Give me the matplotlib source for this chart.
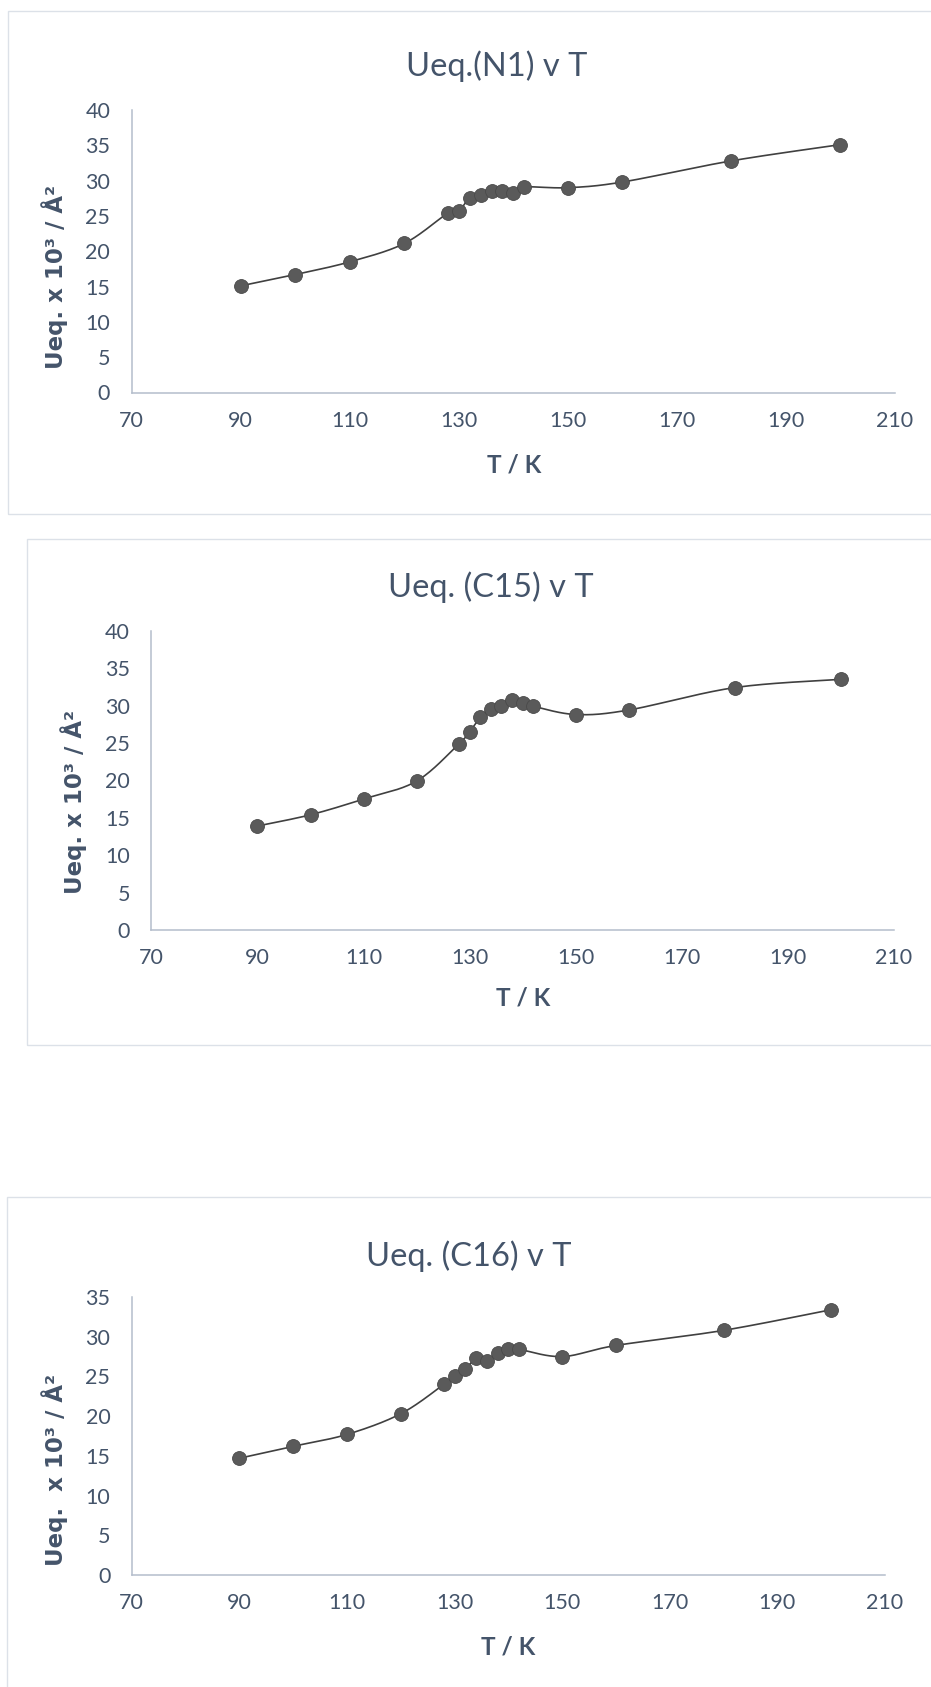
import numpy as np
import matplotlib
matplotlib.use("Agg")
import matplotlib.pyplot as plt
from matplotlib.patches import Rectangle

# ---------------- data ----------------
temps = [90, 100, 110, 120, 128, 130, 132, 134, 136, 138, 140, 142, 150, 160, 180, 200]
ueq_n1 = [15.1, 16.7, 18.5, 21.1, 25.4, 25.7, 27.6, 28.0, 28.5, 28.6, 28.3, 29.1, 29.0, 29.8, 32.8, 35.1]
ueq_c15 = [13.9, 15.4, 17.5, 19.9, 24.9, 26.5, 28.4, 29.6, 29.9, 30.8, 30.3, 29.9, 28.8, 29.4, 32.4, 33.5]
ueq_c16 = [14.7, 16.2, 17.7, 20.3, 24.0, 25.1, 25.9, 27.3, 27.0, 27.9, 28.4, 28.4, 27.5, 28.9, 30.8, 33.4]

titles = ["Ueq.(N1) v T", "Ueq. (C15) v T", "Ueq. (C16) v T"]
ylabels = ["Ueq. x 10³ / Å²", "Ueq. x 10³ / Å²", "Ueq.  x 10³ / Å²"]
xlabel = "T / K"
xticks = [70, 90, 110, 130, 150, 170, 190, 210]
yticks_40 = [0, 5, 10, 15, 20, 25, 30, 35, 40]
yticks_35 = [0, 5, 10, 15, 20, 25, 30, 35]

W, H = 931, 1687
TEXT = "#44546a"
SPINE = "#b4bdcc"
FRAME = "#dce1e8"
MARK = "#5a5a5a"
LINE = "#404040"


def smooth(x, y, n=30):
    """Excel-like smoothed line: cubic Bezier with Catmull-Rom control points."""
    x = np.asarray(x, float)
    y = np.asarray(y, float)
    P = np.column_stack([x, y])
    out = [P[0]]
    t = np.linspace(0, 1, n)[1:, None]
    for i in range(len(P) - 1):
        p0 = P[i - 1] if i > 0 else P[i]
        p3 = P[i + 2] if i + 2 < len(P) else P[i + 1]
        b0 = P[i]
        b3 = P[i + 1]
        b1 = b0 + (b3 - p0) / 6.0
        b2 = b3 - (p3 - b0) / 6.0
        seg = ((1 - t) ** 3) * b0 + 3 * ((1 - t) ** 2) * t * b1 + 3 * (1 - t) * t ** 2 * b2 + t ** 3 * b3
        out.extend(seg)
    out = np.array(out)
    return out[:, 0], out[:, 1]


fig = plt.figure(figsize=(W / 100, H / 100), dpi=100)
fig.patch.set_facecolor("white")


def fx(px):
    return px / W


def fy(py):
    return 1 - py / H


panels = [
    dict(y=ueq_n1, frame=(8, 11, 960, 514), ax=(131.7, 895, 392.5, 110), ymax=40, yt=yticks_40,
         title=(497, 66), xl=(514, 465), yl=(55, 277)),
    dict(y=ueq_c15, frame=(27, 539, 960, 1045), ax=(151.4, 894, 930, 630.7), ymax=40, yt=yticks_40,
         title=(491, 587), xl=(523, 998), yl=(74, 802)),
    dict(y=ueq_c16, frame=(7, 1197, 960, 1700), ax=(131.8, 885, 1575, 1297), ymax=35, yt=yticks_35,
         title=(469, 1256), xl=(508, 1647), yl=(55, 1470)),
]

for k, p in enumerate(panels):
    fl, ft, fr, fb = p["frame"]
    fig.patches.append(Rectangle((fx(fl), fy(fb)), fx(fr - fl), (fb - ft) / H,
                                 transform=fig.transFigure, fill=False,
                                 edgecolor=FRAME, linewidth=1.0, zorder=0))
    l, r, y0, yt = p["ax"]
    ax = fig.add_axes([fx(l), fy(y0), fx(r - l), (y0 - yt) / H])
    sx, sy = smooth(temps, p["y"])
    ax.plot(sx, sy, color=LINE, lw=1.2, zorder=2, clip_on=False)
    ax.plot(temps, p["y"], linestyle="none", marker="o", markersize=10,
            markerfacecolor=MARK, markeredgecolor="#4a4a4a", markeredgewidth=0.6,
            zorder=3, clip_on=False)
    ax.set_xlim(70, 210)
    ax.set_ylim(0, p["ymax"])
    ax.set_xticks(xticks)
    ax.set_yticks(p["yt"])
    for s in ["top", "right"]:
        ax.spines[s].set_visible(False)
    for s in ["left", "bottom"]:
        ax.spines[s].set_color(SPINE)
        ax.spines[s].set_linewidth(1.1)
    ax.tick_params(axis="both", length=0, colors=TEXT, labelsize=15.5)
    ax.tick_params(axis="x", pad=13)
    ax.tick_params(axis="y", pad=15.5)
    for lab in ax.get_xticklabels() + ax.get_yticklabels():
        lab.set_fontfamily("Lato")
    ax.patch.set_alpha(0)

    tx, ty = p["title"]
    fig.text(fx(tx), fy(ty), titles[k], ha="center", va="center", color=TEXT,
             fontsize=23.5, family="Lato", fontweight="normal")
    xx, xy = p["xl"]
    fig.text(fx(xx), fy(xy), xlabel, ha="center", va="center", color=TEXT,
             fontsize=17.5, family="Lato", fontweight="bold")
    yx, yy = p["yl"]
    fig.text(fx(yx), fy(yy), ylabels[k], ha="center", va="center", color=TEXT,
             fontsize=16.5, family="DejaVu Sans", fontweight="bold", rotation=90)

fig.savefig("out.png", dpi=100, facecolor="white")
